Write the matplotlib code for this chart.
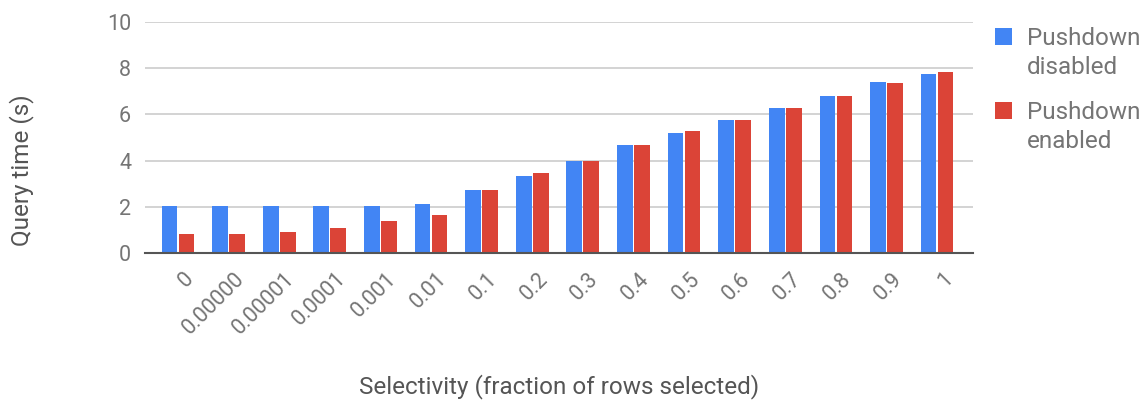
import matplotlib
matplotlib.use("Agg")
import matplotlib.pyplot as plt
import matplotlib.transforms as mtransforms
from matplotlib.patches import Rectangle
import numpy as np

plt.rcParams['font.family'] = ['Roboto', 'DejaVu Sans']

categories = ["0", "0.00000", "0.00001", "0.0001", "0.001", "0.01", "0.1", "0.2",
              "0.3", "0.4", "0.5", "0.6", "0.7", "0.8", "0.9", "1"]
pushdown_disabled = [2.02, 2.02, 2.02, 2.02, 2.02, 2.12, 2.72, 3.32,
                     3.97, 4.67, 5.20, 5.74, 6.27, 6.81, 7.41, 7.75]
pushdown_enabled = [0.82, 0.82, 0.91, 1.10, 1.39, 1.65, 2.72, 3.45,
                    3.97, 4.67, 5.26, 5.74, 6.27, 6.81, 7.34, 7.82]
series_labels = ["Pushdown\ndisabled", "Pushdown\nenabled"]
y_ticks = [0, 2, 4, 6, 8, 10]
x_title = "Selectivity (fraction of rows selected)"
y_title = "Query time (s)"

BLUE = "#4285F4"
RED = "#DB4437"
TXT = "#757575"
TITLE = "#555555"

W, H = 1147, 400
fig = plt.figure(figsize=(W / 100, H / 100), dpi=100)
ax = fig.add_axes([145 / W, 1 - 253 / H, (973 - 145) / W, (253 - 22) / H])

x = np.arange(len(categories))
bw = 0.31
off = 0.168
ax.bar(x - off, pushdown_disabled, width=bw, color=BLUE, zorder=3)
ax.bar(x + off, pushdown_enabled, width=bw, color=RED, zorder=3)

ax.set_xlim(-0.652, 15.71)
ax.set_ylim(0, 10)
ax.set_yticks(y_ticks)
ax.set_yticklabels([str(t) for t in y_ticks])
ax.yaxis.grid(True, color="#cccccc", linewidth=1.2, zorder=0)
ax.set_axisbelow(True)
for s in ["top", "right", "left"]:
    ax.spines[s].set_visible(False)
ax.spines["bottom"].set_color("#555555")
ax.spines["bottom"].set_linewidth(1.5)
ax.spines["bottom"].set_zorder(4)
ax.tick_params(axis="y", length=0, pad=10, labelsize=15.5, labelcolor=TXT)
ax.tick_params(axis="x", length=0, pad=6, labelsize=15.5, labelcolor=TXT)

ax.set_xticks(x)
ax.set_xticklabels(categories, rotation=45, ha="right", va="top", rotation_mode="anchor")
shift = mtransforms.ScaledTranslation(5 / 100, -7 / 100, fig.dpi_scale_trans)
for lbl in ax.get_xticklabels():
    lbl.set_transform(lbl.get_transform() + shift)

fig.text(559 / W, 1 - 387 / H, x_title, ha="center", va="center", fontsize=17.5, color=TITLE)
fig.text(22 / W, 1 - 170 / H, y_title, ha="center", va="center", rotation=90, fontsize=17.5, color=TITLE)

colors = [BLUE, RED]
for i, (lab, col) in enumerate(zip(series_labels, colors)):
    y0 = 28 + 74 * i
    fig.patches.append(Rectangle((995 / W, 1 - (y0 + 17) / H), 17 / W, 17 / H,
                                 transform=fig.transFigure, facecolor=col, edgecolor="none"))
    fig.text(1027 / W, 1 - (y0 - 1) / H, lab, ha="left", va="top", fontsize=17.5,
             color=TXT, linespacing=1.35)

fig.savefig("out.png", dpi=100)
